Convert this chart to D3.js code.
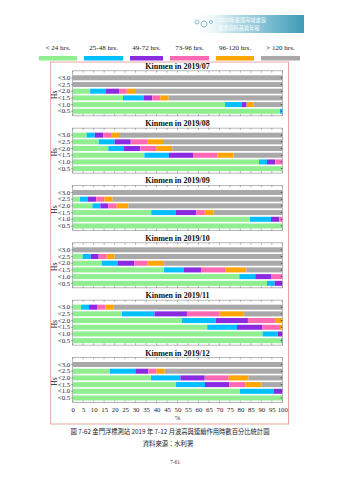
<!DOCTYPE html>
<html><head><meta charset="utf-8">
<script src="https://cdn.jsdelivr.net/npm/d3@7"></script>
<style>html,body{margin:0;padding:0;background:#fff;}svg{display:block;}</style>
</head><body>
<script>
const categories = ["< 24 hrs.", "25-48 hrs.", "49-72 hrs.", "73-96 hrs.", "96-120 hrs.", "> 120 hrs."];
const colors = ["#90EE90", "#00BFFF", "#8A2BE2", "#FF69B4", "#FFA500", "#A9A9A9"];
const rows = ["<3.0", "<2.5", "<2.0", "<1.5", "<1.0", "<0.5"];
const months = ["Kinmen in 2019/07", "Kinmen in 2019/08", "Kinmen in 2019/09", "Kinmen in 2019/10", "Kinmen in 2019/11", "Kinmen in 2019/12"];
const xTicks = [0,5,10,15,20,25,30,35,40,45,50,55,60,65,70,75,80,85,90,95,100];
// percentages per row for each duration category
const jul = [[0,0,0,0,0,100],[0,0,0,0,0,100],[8.3,7.6,6.2,3.7,3.9,70.3],[24.0,9.9,4.1,3.8,4.0,54.2],[72.7,8.1,2.2,0,3.3,13.7],[98.9,1.1,0,0,0,0]];
const aug = [[6.7,3.8,4.0,3.8,3.8,77.9],[12.4,7.6,7.7,7.8,7.6,56.9],[17.0,7.5,7.8,7.6,7.6,52.5],[34.2,11.7,11.5,11.6,7.8,23.2],[88.9,3.8,4.0,3.3,0,0],[100,0,0,0,0,0]];
const sep = [[0,0,0,0,0,100],[3.5,3.8,4.0,3.8,4.0,80.9],[9.4,3.8,3.8,4.0,5.6,73.4],[37.5,11.6,9.9,4.0,4.1,32.9],[84.6,10.0,4.0,1.4,0,0],[100,0,0,0,0,0]];
const oct = [[0,0,0,0,0,100],[4.8,3.8,3.8,3.8,3.8,80.0],[13.8,7.8,7.7,6.5,7.8,56.4],[43.6,9.5,8.1,11.5,10.1,17.2],[79.5,7.6,7.8,5.1,0,0],[92.7,3.6,3.7,0,0,0]];
const nov = [[4.0,3.8,3.8,4.0,4.0,80.4],[23.5,15.5,15.5,15.6,11.5,18.4],[52.0,16.2,15.4,12.9,3.5,0],[64.2,14.2,11.9,8.6,1.1,0],[90.6,7.2,2.2,0,0,0],[99.5,0.5,0,0,0,0]];
const dec = [[0,0,0,0,0,100],[17.8,12.1,6.2,3.8,4.0,56.1],[37.4,14.0,11.6,11.4,9.5,16.1],[49.3,13.8,11.5,7.8,7.7,9.9],[79.8,16.2,4.0,0,0,0],[100,0,0,0,0,0]];
const panelData = [jul, aug, sep, oct, nov, dec];

const W = 339, H = 480;
const svg = d3.select("body").append("svg").attr("width", W).attr("height", H);
const serif = "'Liberation Serif','DejaVu Serif',serif";
const cjk = "'Noto Sans CJK TC','Noto Sans CJK SC',sans-serif";

// header banner
const defs = svg.append("defs");
const grad = defs.append("linearGradient").attr("id","bn").attr("x1","0").attr("x2","1");
grad.append("stop").attr("offset","0").attr("stop-color","#ffffff").attr("stop-opacity",0);
grad.append("stop").attr("offset","0.35").attr("stop-color","#bfe0ea");
grad.append("stop").attr("offset","1").attr("stop-color","#3d9bb8");
svg.append("rect").attr("x",192).attr("y",15).attr("width",112).attr("height",18).attr("fill","url(#bn)");
[[197,22,2],[204,24,3],[211,22,1.5]].forEach(c=>svg.append("circle").attr("cx",c[0]).attr("cy",c[1]).attr("r",c[2]).attr("fill","none").attr("stroke","#6fb2c8").attr("stroke-width",0.8));
svg.append("text").attr("x",218).attr("y",22).attr("font-family",cjk).attr("font-size",5.2).attr("fill","#fff").text("2019年臺灣海域波浪");
svg.append("text").attr("x",218).attr("y",29.5).attr("font-family",cjk).attr("font-size",5.2).attr("fill","#fff").text("觀測資料品質年報");

// legend
const legX = [39,84,130,170,216,261], legW = [38,39,33,39,38,39];
categories.forEach((c,i)=>{
  svg.append("rect").attr("x",legX[i]).attr("y",56).attr("width",legW[i]).attr("height",4.5).attr("fill",colors[i]);
  svg.append("text").attr("x",legX[i]+legW[i]/2).attr("y",50).attr("text-anchor","middle")
    .attr("font-family",serif).attr("font-size",7).attr("fill","#222").text(c);
});

// outer pink frame
svg.append("rect").attr("x",50.7).attr("y",62).attr("width",237.8).attr("height",362)
  .attr("fill","none").attr("stroke","#e8a5a5").attr("stroke-width",1);

const x = d3.scaleLinear().domain([0,100]).range([72.7,282.3]);
const catKeys = d3.range(categories.length);

panelData.forEach((data, p) => {
  const r0 = 77.8 + p*57.34;
  const top = r0 - 7, bottom = r0 + 38;
  const y = d3.scaleBand().domain(rows).range([r0-3.35, r0+6.7*5+3.35]).paddingInner(0.25).paddingOuter(0.125);
  const g = svg.append("g");
  g.append("text").attr("x",177.5).attr("y",top-2).attr("text-anchor","middle")
    .attr("font-family",serif).attr("font-weight","bold").attr("font-size",8).attr("fill","#111").text(months[p]);
  g.append("rect").attr("x",x(0)).attr("y",top).attr("width",x(100)-x(0)).attr("height",bottom-top).attr("fill","#fff");
  const table = rows.map((r,i)=>{const o={row:r}; catKeys.forEach(k=>o[k]=data[i][k]); return o;});
  const stack = d3.stack().keys(catKeys)(table);
  g.selectAll("g.s").data(stack).join("g").attr("fill",(d,i)=>colors[i])
    .selectAll("rect").data(d=>d).join("rect")
    .attr("x",d=>x(d[0])).attr("width",d=>Math.max(0,x(d[1])-x(d[0])))
    .attr("y",d=>y(d.data.row)).attr("height",y.bandwidth());
  // frame
  g.append("rect").attr("x",x(0)).attr("y",top).attr("width",x(100)-x(0)).attr("height",bottom-top)
    .attr("fill","none").attr("stroke","#999").attr("stroke-width",0.7);
  // top/bottom ticks
  xTicks.forEach(t=>{
    g.append("line").attr("x1",x(t)).attr("x2",x(t)).attr("y1",top).attr("y2",top+1.8).attr("stroke","#666").attr("stroke-width",0.5);
    g.append("line").attr("x1",x(t)).attr("x2",x(t)).attr("y1",bottom).attr("y2",bottom-1.8).attr("stroke","#666").attr("stroke-width",0.5);
  });
  // left axis
  const ya = g.append("g").attr("transform",`translate(${x(0)},0)`)
    .call(d3.axisLeft(y).tickSize(1.5).tickPadding(1));
  ya.select(".domain").remove();
  ya.selectAll("line").attr("stroke","#555").attr("stroke-width",0.6);
  ya.selectAll("text").attr("font-family",serif).attr("font-size",6.8).attr("fill","#222");
  // right ticks
  rows.forEach(r=>{
    g.append("line").attr("x1",x(100)-1.5).attr("x2",x(100)).attr("y1",y(r)+y.bandwidth()/2).attr("y2",y(r)+y.bandwidth()/2).attr("stroke","#333").attr("stroke-width",0.8);
  });
  g.append("text").attr("transform",`translate(57,${r0+17}) rotate(-90)`).attr("text-anchor","middle")
    .attr("font-family",serif).attr("font-size",7.5).attr("fill","#222").text("Hs");
  if (p === panelData.length-1) {
    const xa = g.append("g").attr("transform",`translate(0,${bottom})`)
      .call(d3.axisBottom(x).tickValues(xTicks).tickSize(0).tickPadding(5));
    xa.select(".domain").remove();
    xa.selectAll("text").attr("font-family",serif).attr("font-size",6.8).attr("fill","#222");
    g.append("text").attr("x",177.5).attr("y",bottom+17).attr("text-anchor","middle")
      .attr("font-family",serif).attr("font-size",6.8).attr("fill","#222").text("%");
  }
});

// captions
svg.append("text").attr("x",170).attr("y",434).attr("text-anchor","middle").attr("font-family",cjk)
  .attr("font-size",6.3).attr("fill","#222").text("圖 7-62  金門浮標測站 2019 年 7-12 月波高與連續作用時數百分比統計圖");
svg.append("text").attr("x",168).attr("y",446).attr("text-anchor","middle").attr("font-family",cjk)
  .attr("font-size",6.3).attr("fill","#222").text("資料來源：水利署");
svg.append("text").attr("x",175).attr("y",464).attr("text-anchor","middle").attr("font-family",serif)
  .attr("font-size",5.5).attr("fill","#333").text("7-61");
</script>
</body></html>
